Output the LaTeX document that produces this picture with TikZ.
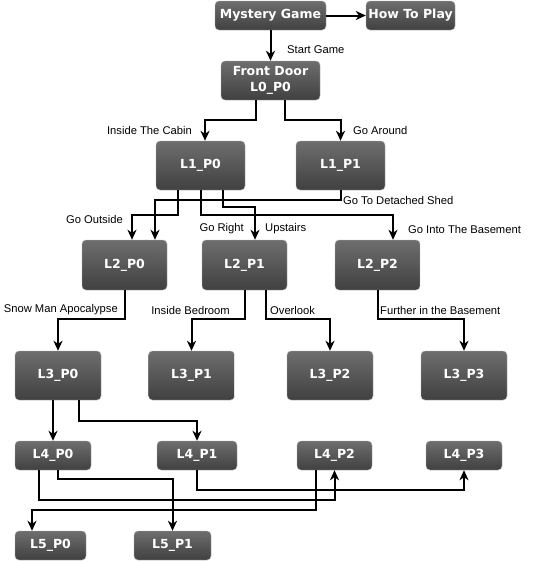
\documentclass[tikz,border=0pt]{standalone}
\usepackage{fontspec}
\setmainfont{Liberation Sans}
\newfontfamily\boxfont{DejaVu Sans}
\usetikzlibrary{arrows.meta}
\definecolor{boxtop}{RGB}{110,110,110}
\definecolor{boxbot}{RGB}{64,64,64}
\definecolor{boxline}{RGB}{175,175,175}

\begin{document}
\begin{tikzpicture}[x=1pt, y=-1pt,
    >={Stealth[length=10pt, width=9pt, inset=3pt]},
    room/.style={rectangle, rounded corners=4pt, draw=boxline, line width=0.4pt,
        top color=boxtop, bottom color=boxbot, text=white, inner sep=0pt,
        align=center, font=\boxfont\bfseries\fontsize{12.5}{16}\selectfont},
    lbl/.style={inner sep=0pt, font=\fontsize{11.2}{13}\selectfont},
    link/.style={->, line width=2pt}]
    \useasboundingbox[fill=white] (0,0) rectangle (547,562);

    % rooms
    \node (MG) at (270.5, 15.5) [room, minimum width=111pt, minimum height=29pt]{Mystery Game};
    \node (HTP) at (410.5, 15.5) [room, minimum width=89pt, minimum height=29pt]{How To Play};
    \node (FD) at (270.5, 80.5) [room, minimum width=99pt, minimum height=39pt]{Front Door\\L0\_P0};

    \node (L1P0) at (200.5, 165.5) [room, minimum width=89pt, minimum height=49pt]{L1\_P0};
    \node (L1P1) at (340.5, 165.5) [room, minimum width=89pt, minimum height=49pt]{L1\_P1};

    \node (L2P0) at (124.5, 265) [room, minimum width=85pt, minimum height=50pt]{L2\_P0};
    \node (L2P1) at (244.5, 265) [room, minimum width=85pt, minimum height=50pt]{L2\_P1};
    \node (L2P2) at (377.5, 265) [room, minimum width=85pt, minimum height=50pt]{L2\_P2};

    \node (L3P0) at (58, 375.5) [room, minimum width=86pt, minimum height=49pt]{L3\_P0};
    \node (L3P1) at (191.5, 375.5) [room, minimum width=86pt, minimum height=49pt]{L3\_P1};
    \node (L3P2) at (330, 375.5) [room, minimum width=86pt, minimum height=49pt]{L3\_P2};
    \node (L3P3) at (464, 375.5) [room, minimum width=86pt, minimum height=49pt]{L3\_P3};

    \node (L4P0) at (53, 455.5) [room, minimum width=76pt, minimum height=29pt]{L4\_P0};
    \node (L4P1) at (197, 455.5) [room, minimum width=80pt, minimum height=29pt]{L4\_P1};
    \node (L4P2) at (334.5, 455.5) [room, minimum width=75pt, minimum height=29pt]{L4\_P2};
    \node (L4P3) at (464, 455.5) [room, minimum width=76pt, minimum height=29pt]{L4\_P3};

    \node (L5P0) at (50.5, 545.5) [room, minimum width=71pt, minimum height=29pt]{L5\_P0};
    \node (L5P1) at (172.5, 545.5) [room, minimum width=77pt, minimum height=29pt]{L5\_P1};

    % choices
    \node (tStart) at (287, 50) [lbl, anchor=west]{Start Game};
    \node (tCabin) at (192, 130) [lbl, anchor=east]{Inside The Cabin};
    \node (tAround) at (353, 130) [lbl, anchor=west]{Go Around};
    \node (tShed) at (343, 200) [lbl, anchor=west]{Go To Detached Shed};
    \node (tOutside) at (123, 219) [lbl, anchor=east]{Go Outside};
    \node (tRight) at (244, 229) [lbl, anchor=east]{Go Right};
    \node (tUp) at (265, 229) [lbl, anchor=west]{Upstairs};
    \node (tBase) at (408, 229) [lbl, anchor=west]{Go Into The Basement};
    \node (tSnow) at (118, 310) [lbl, anchor=east]{Snow Man Apocalypse};
    \node (tBed) at (230, 310) [lbl, anchor=east]{Inside Bedroom};
    \node (tOver) at (270, 310) [lbl, anchor=west]{Overlook};
    \node (tFurther) at (380, 310) [lbl, anchor=west]{Further in the Basement};

    \draw[link] (MG) -- (HTP);
    \draw[link] (MG) -- (FD);
    \draw[link] ([xshift=-14.5pt]FD.south) -- ++(0,20) -| ([xshift=4.5pt]L1P0.north);
    \draw[link] ([xshift=14.5pt]FD.south) -- ++(0,20) -| (L1P1.north);

    \draw[link] ([xshift=-22.5pt]L1P0.south) -- ++(0,25) -| ([xshift=7.5pt]L2P0.north);
    \draw[link] (L1P1.south) -- ++(0,10) -| ([xshift=30.5pt]L2P0.north);
    \draw[link] ([xshift=22.5pt]L1P0.south) -- ++(0,17) -| ([xshift=10.5pt]L2P1.north);
    \draw[link] (L1P0.south) -- ++(0,25) -| ([xshift=15.5pt]L2P2.north);

    \draw[link] (L2P0.south) -- ++(0,29) -| (L3P0.north);
    \draw[link] (L2P1.south) -- ++(0,29) -| (L3P1.north);
    \draw[link] ([xshift=21.5pt]L2P1.south) -- ++(0,29) -| (L3P2.north);
    \draw[link] (L2P2.south) -- ++(0,29) -| (L3P3.north);

    \draw[link] (L4P0.north |- L3P0.south) -- (L4P0.north);
    \draw[link] ([xshift=21pt]L3P0.south) -- ++(0,21) -| (L4P1.north);

    \draw[link] ([xshift=-14pt]L4P0.south) -- ++(0,30) -| (L4P2.south);
    \draw[link] ([xshift=5pt]L4P0.south) -- ++(0,9) -| (L5P1.north);
    \draw[link] (L4P1.south) -- ++(0,20) -| (L4P3.south);
    \draw[link] ([xshift=-18.5pt]L4P2.south) -- ++(0,40) -| ([xshift=-18.5pt]L5P0.north);
\end{tikzpicture}
\end{document}
